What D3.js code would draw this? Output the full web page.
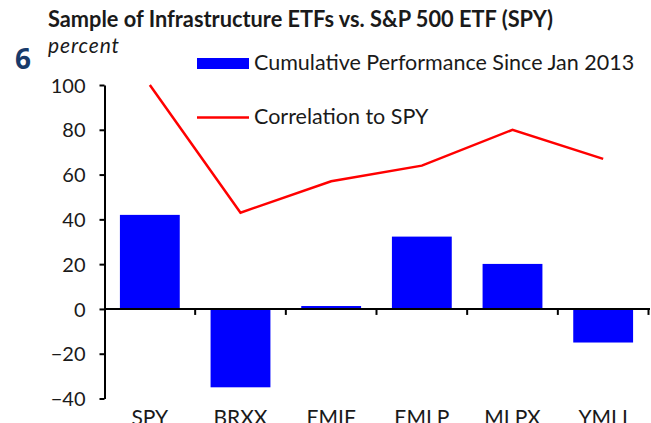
<!DOCTYPE html>
<html>
<head>
<meta charset="utf-8">
<script src="https://cdn.jsdelivr.net/npm/d3@7"></script>
<style>
  body { margin: 0; background: white; }
  #chart { width: 651px; height: 423px; overflow: hidden; }
  text { font-family: Lato, "Open Sans", sans-serif; fill: #1a1a1a; }
</style>
</head>
<body>
<div id="chart"></div>
<script>
/* Daten */
var categories = ["SPY", "BRXX", "EMIF", "EMLP", "MLPX", "YMLI"];
var performance = [42, -35, 1.3, 32.3, 20.1, -15];
var correlation = [100, 43, 57, 64, 80, 67];
var yTicks = [-40, -20, 0, 20, 40, 60, 80, 100];

var titleText = "Sample of Infrastructure ETFs vs. S&P 500 ETF (SPY)";
var barLabel = "Cumulative Performance Since Jan 2013";
var lineLabel = "Correlation to SPY";

/* SVG erstellen */
var svg = d3.select("#chart").append("svg").attr("width", 651).attr("height", 423);
svg.append("rect").attr("width", "100%").attr("height", "100%").attr("fill", "white");

/* Skalen */
var x = d3.scaleBand().domain(categories).range([104.5, 648.5]).paddingInner(0.34).paddingOuter(0.17);
var y = d3.scaleLinear().domain([-40, 100]).range([398.5, 85]);

/* Titel und Beschriftungen */
svg.append("text").attr("x", 48).attr("y", 27).attr("font-size", "22px").attr("font-weight", "bold")
  .attr("textLength", 505).attr("lengthAdjust", "spacingAndGlyphs").text(titleText);
svg.append("text").attr("x", 15).attr("y", 69).attr("font-size", "28px").attr("font-weight", "bold")
  .style("font-family", "'Open Sans', sans-serif").style("fill", "#173a6a").text("6");
svg.append("text").attr("x", 48).attr("y", 53).attr("font-size", "21px").attr("font-style", "italic")
  .attr("textLength", 71).text("percent");

/* Balken */
svg.append("g").selectAll("rect").data(performance).enter().append("rect")
  .attr("x", function(d, i) { return x(categories[i]); })
  .attr("width", x.bandwidth())
  .attr("y", function(d) { return y(Math.max(0, d)); })
  .attr("height", function(d) { return Math.abs(y(d) - y(0)); })
  .attr("fill", "#0000ff");

/* Linie */
var line = d3.line()
  .x(function(d, i) { return x(categories[i]) + x.bandwidth() / 2; })
  .y(function(d) { return y(d); });
svg.append("path").datum(correlation).attr("d", line).attr("fill", "none")
  .attr("stroke", "#ff0000").attr("stroke-width", 2.5);

/* Y-Achse */
var yAxis = svg.append("g").attr("transform", "translate(104.5,0)")
  .call(d3.axisLeft(y).tickValues(yTicks).tickSize(5).tickSizeOuter(0).tickPadding(14));
yAxis.select(".domain").attr("stroke", "#000").attr("stroke-width", 2);
yAxis.selectAll(".tick line").attr("stroke", "#000").attr("stroke-width", 2);
yAxis.selectAll(".tick text").attr("font-size", "20px").attr("font-family", null).attr("dy", "0.36em");

/* Nulllinie mit Kategorie-Ticks */
var boundaries = categories.map(function(c) { return x(c) - x.step() * x.paddingInner() / 2; });
boundaries.push(648.5);
svg.append("line").attr("x1", 104.5).attr("x2", 650).attr("y1", y(0)).attr("y2", y(0))
  .attr("stroke", "#000").attr("stroke-width", 2);
svg.append("g").selectAll("line").data(boundaries.slice(1)).enter().append("line")
  .attr("x1", function(d) { return d; }).attr("x2", function(d) { return d; })
  .attr("y1", y(0)).attr("y2", y(0) + 6)
  .attr("stroke", "#000").attr("stroke-width", 2);

/* Kategorien */
svg.append("g").selectAll("text").data(categories).enter().append("text")
  .attr("x", function(d) { return x(d) + x.bandwidth() / 2; })
  .attr("y", 425).attr("text-anchor", "middle").attr("font-size", "21px")
  .text(function(d) { return d; });

/* Legende */
svg.append("rect").attr("x", 197).attr("y", 58).attr("width", 52).attr("height", 11).attr("fill", "#0000ff");
svg.append("text").attr("x", 254).attr("y", 70).attr("font-size", "21.5px").text(barLabel);
svg.append("line").attr("x1", 197).attr("x2", 249).attr("y1", 117.5).attr("y2", 117.5)
  .attr("stroke", "#ff0000").attr("stroke-width", 2.5);
svg.append("text").attr("x", 254).attr("y", 124).attr("font-size", "21.5px").text(lineLabel);
</script>
</body>
</html>
